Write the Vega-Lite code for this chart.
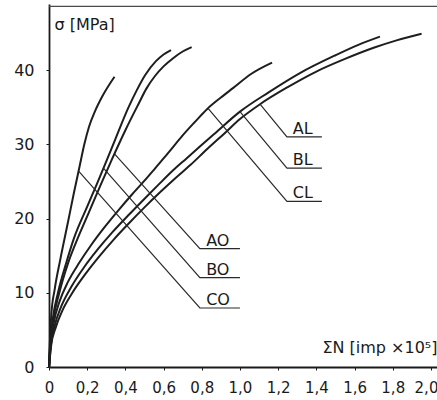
{
  "$schema": "https://vega.github.io/schema/vega-lite/v6.json",
  "width": 389,
  "height": 363,
  "autosize": "none",
  "padding": {"left": 49, "top": 4, "right": 0, "bottom": 33},
  "background": "white",
  "config": {
    "view": {"stroke": null},
    "font": "DejaVu Sans",
    "axis": {
      "grid": false,
      "domainColor": "#1a1a1a",
      "tickColor": "#1a1a1a",
      "labelColor": "#1a1a1a",
      "titleColor": "#1a1a1a",
      "labelFont": "DejaVu Sans",
      "titleFont": "DejaVu Sans",
      "titleFontWeight": "normal"
    }
  },
  "datasets": {
    "curves": [
      {"s": "CO", "n": 0, "sigma": 0}, {"s": "CO", "n": 0.004, "sigma": 3}, {"s": "CO", "n": 0.012, "sigma": 7}, {"s": "CO", "n": 0.03, "sigma": 10.5}, {"s": "CO", "n": 0.06, "sigma": 14.6}, {"s": "CO", "n": 0.1, "sigma": 19.6}, {"s": "CO", "n": 0.13, "sigma": 23.4}, {"s": "CO", "n": 0.16, "sigma": 27.0}, {"s": "CO", "n": 0.185, "sigma": 30.0}, {"s": "CO", "n": 0.21, "sigma": 32.4}, {"s": "CO", "n": 0.24, "sigma": 34.4}, {"s": "CO", "n": 0.28, "sigma": 36.5}, {"s": "CO", "n": 0.343, "sigma": 39.1},

      {"s": "BO", "n": 0, "sigma": 0}, {"s": "BO", "n": 0.006, "sigma": 3}, {"s": "BO", "n": 0.02, "sigma": 6.5}, {"s": "BO", "n": 0.047, "sigma": 10.0}, {"s": "BO", "n": 0.09, "sigma": 14.0}, {"s": "BO", "n": 0.13, "sigma": 17.3}, {"s": "BO", "n": 0.2, "sigma": 21.6}, {"s": "BO", "n": 0.25, "sigma": 24.6}, {"s": "BO", "n": 0.3, "sigma": 27.7}, {"s": "BO", "n": 0.346, "sigma": 30.6}, {"s": "BO", "n": 0.415, "sigma": 34.9}, {"s": "BO", "n": 0.46, "sigma": 37.3}, {"s": "BO", "n": 0.503, "sigma": 39.3}, {"s": "BO", "n": 0.56, "sigma": 41.2}, {"s": "BO", "n": 0.6, "sigma": 42.1}, {"s": "BO", "n": 0.639, "sigma": 42.7},

      {"s": "AO", "n": 0, "sigma": 0}, {"s": "AO", "n": 0.006, "sigma": 2.8}, {"s": "AO", "n": 0.022, "sigma": 6.3}, {"s": "AO", "n": 0.052, "sigma": 9.8}, {"s": "AO", "n": 0.1, "sigma": 14.0}, {"s": "AO", "n": 0.14, "sigma": 16.7}, {"s": "AO", "n": 0.21, "sigma": 20.9}, {"s": "AO", "n": 0.27, "sigma": 24.5}, {"s": "AO", "n": 0.33, "sigma": 28.0}, {"s": "AO", "n": 0.4, "sigma": 31.9}, {"s": "AO", "n": 0.468, "sigma": 35.4}, {"s": "AO", "n": 0.51, "sigma": 37.5}, {"s": "AO", "n": 0.555, "sigma": 39.2}, {"s": "AO", "n": 0.6, "sigma": 40.5}, {"s": "AO", "n": 0.65, "sigma": 41.6}, {"s": "AO", "n": 0.7, "sigma": 42.5}, {"s": "AO", "n": 0.747, "sigma": 43.1},

      {"s": "CL", "n": 0, "sigma": 0}, {"s": "CL", "n": 0.008, "sigma": 3}, {"s": "CL", "n": 0.025, "sigma": 6.0}, {"s": "CL", "n": 0.055, "sigma": 8.8}, {"s": "CL", "n": 0.1, "sigma": 11.5}, {"s": "CL", "n": 0.16, "sigma": 14.1}, {"s": "CL", "n": 0.22, "sigma": 16.4}, {"s": "CL", "n": 0.29, "sigma": 18.8}, {"s": "CL", "n": 0.36, "sigma": 21.0}, {"s": "CL", "n": 0.43, "sigma": 23.1}, {"s": "CL", "n": 0.5, "sigma": 25.1}, {"s": "CL", "n": 0.56, "sigma": 26.9}, {"s": "CL", "n": 0.62, "sigma": 28.7}, {"s": "CL", "n": 0.7, "sigma": 31.2}, {"s": "CL", "n": 0.76, "sigma": 32.9}, {"s": "CL", "n": 0.83, "sigma": 34.8}, {"s": "CL", "n": 0.9, "sigma": 36.3}, {"s": "CL", "n": 0.965, "sigma": 37.6}, {"s": "CL", "n": 1.06, "sigma": 39.5}, {"s": "CL", "n": 1.168, "sigma": 41.0},

      {"s": "BL", "n": 0, "sigma": 0}, {"s": "BL", "n": 0.01, "sigma": 3}, {"s": "BL", "n": 0.03, "sigma": 5.6}, {"s": "BL", "n": 0.06, "sigma": 7.9}, {"s": "BL", "n": 0.117, "sigma": 10.8}, {"s": "BL", "n": 0.18, "sigma": 13.3}, {"s": "BL", "n": 0.257, "sigma": 15.9}, {"s": "BL", "n": 0.33, "sigma": 18.1}, {"s": "BL", "n": 0.414, "sigma": 20.4}, {"s": "BL", "n": 0.49, "sigma": 22.4}, {"s": "BL", "n": 0.571, "sigma": 24.5}, {"s": "BL", "n": 0.65, "sigma": 26.5}, {"s": "BL", "n": 0.72, "sigma": 28.1}, {"s": "BL", "n": 0.79, "sigma": 29.7}, {"s": "BL", "n": 0.87, "sigma": 31.5}, {"s": "BL", "n": 1.0, "sigma": 34.4}, {"s": "BL", "n": 1.15, "sigma": 37.0}, {"s": "BL", "n": 1.314, "sigma": 39.6}, {"s": "BL", "n": 1.5, "sigma": 42.0}, {"s": "BL", "n": 1.62, "sigma": 43.4}, {"s": "BL", "n": 1.733, "sigma": 44.5},

      {"s": "AL", "n": 0, "sigma": 0}, {"s": "AL", "n": 0.012, "sigma": 3}, {"s": "AL", "n": 0.035, "sigma": 5.3}, {"s": "AL", "n": 0.07, "sigma": 7.6}, {"s": "AL", "n": 0.12, "sigma": 9.9}, {"s": "AL", "n": 0.19, "sigma": 12.5}, {"s": "AL", "n": 0.26, "sigma": 14.8}, {"s": "AL", "n": 0.34, "sigma": 17.2}, {"s": "AL", "n": 0.42, "sigma": 19.4}, {"s": "AL", "n": 0.5, "sigma": 21.5}, {"s": "AL", "n": 0.58, "sigma": 23.5}, {"s": "AL", "n": 0.66, "sigma": 25.4}, {"s": "AL", "n": 0.74, "sigma": 27.2}, {"s": "AL", "n": 0.83, "sigma": 29.4}, {"s": "AL", "n": 0.92, "sigma": 31.5}, {"s": "AL", "n": 1.0, "sigma": 33.4}, {"s": "AL", "n": 1.105, "sigma": 35.4}, {"s": "AL", "n": 1.25, "sigma": 37.7}, {"s": "AL", "n": 1.4, "sigma": 39.8}, {"s": "AL", "n": 1.55, "sigma": 41.5}, {"s": "AL", "n": 1.7, "sigma": 43.0}, {"s": "AL", "n": 1.82, "sigma": 44.0}, {"s": "AL", "n": 1.951, "sigma": 44.9}
    ],
    "leaders": [
      {"s": "CO", "k": 0, "n": 0.155, "sigma": 26.4}, {"s": "CO", "k": 1, "n": 0.79, "sigma": 7.95}, {"s": "CO", "k": 2, "n": 1.0, "sigma": 7.95},
      {"s": "BO", "k": 0, "n": 0.285, "sigma": 26.8}, {"s": "BO", "k": 1, "n": 0.79, "sigma": 12.05}, {"s": "BO", "k": 2, "n": 1.0, "sigma": 12.05},
      {"s": "AO", "k": 0, "n": 0.343, "sigma": 28.7}, {"s": "AO", "k": 1, "n": 0.79, "sigma": 15.95}, {"s": "AO", "k": 2, "n": 1.0, "sigma": 15.95},
      {"s": "CL", "k": 0, "n": 0.834, "sigma": 34.8}, {"s": "CL", "k": 1, "n": 1.246, "sigma": 22.3}, {"s": "CL", "k": 2, "n": 1.429, "sigma": 22.3},
      {"s": "BL", "k": 0, "n": 1.0, "sigma": 34.4}, {"s": "BL", "k": 1, "n": 1.246, "sigma": 26.8}, {"s": "BL", "k": 2, "n": 1.429, "sigma": 26.8},
      {"s": "AL", "k": 0, "n": 1.105, "sigma": 35.4}, {"s": "AL", "k": 1, "n": 1.246, "sigma": 31.0}, {"s": "AL", "k": 2, "n": 1.429, "sigma": 31.0}
    ],
    "labels": [
      {"s": "AO", "n": 0.823, "sigma": 15.95},
      {"s": "BO", "n": 0.823, "sigma": 12.05},
      {"s": "CO", "n": 0.823, "sigma": 7.95},
      {"s": "AL", "n": 1.277, "sigma": 31.0},
      {"s": "BL", "n": 1.277, "sigma": 26.8},
      {"s": "CL", "n": 1.277, "sigma": 22.3}
    ],
    "frame": [
      {"n0": 0, "n1": 2.037, "lo": 48.5, "hi": 48.68}
    ]
  },
  "layer": [
    {
      "data": {"name": "curves"},
      "mark": {"type": "line", "interpolate": "monotone", "strokeWidth": 2, "color": "#1e1e1e"},
      "encoding": {
        "x": {
          "field": "n", "type": "quantitative",
          "scale": {"domain": [0, 2.037], "nice": false},
          "axis": {
            "values": [0, 0.2, 0.4, 0.6, 0.8, 1.0, 1.2, 1.4, 1.6, 1.8, 2.0],
            "labelExpr": "datum.value == 0 ? '0' : replace(format(datum.value, '.1f'), '.', ',')",
            "labelFontSize": 15, "labelPadding": 10, "labelFlush": false,
            "labelAlign": {"condition": {"test": "datum.value == 2", "value": "right"}, "value": "center"},
            "labelOffset": {"condition": {"test": "datum.value == 2", "value": 7}, "value": 0},
            "tickSize": 3, "domainWidth": 1.8,
            "title": "ΣN  [imp ×10⁵]", "titleFontSize": 16,
            "titleX": 388, "titleY": -15, "titleAlign": "right", "titleBaseline": "alphabetic"
          }
        },
        "y": {
          "field": "sigma", "type": "quantitative",
          "scale": {"domain": [0, 48.9], "nice": false},
          "axis": {
            "values": [0, 10, 20, 30, 40],
            "labelFontSize": 16, "labelPadding": 12, "tickSize": 3, "domainWidth": 1.8,
            "title": "σ [MPa]", "titleFontSize": 16, "titleAngle": 0,
            "titleAlign": "left", "titleBaseline": "alphabetic", "titleX": 5, "titleY": 25
          }
        },
        "detail": {"field": "s"}
      }
    },
    {
      "data": {"name": "leaders"},
      "mark": {"type": "line", "strokeWidth": 1.2, "color": "#2a2a2a"},
      "encoding": {
        "x": {"field": "n", "type": "quantitative", "axis": null},
        "y": {"field": "sigma", "type": "quantitative"},
        "detail": {"field": "s"},
        "order": {"field": "k"}
      }
    },
    {
      "data": {"name": "labels"},
      "mark": {"type": "text", "align": "left", "baseline": "alphabetic", "dy": -3, "fontSize": 16, "font": "DejaVu Sans", "color": "#1a1a1a"},
      "encoding": {
        "x": {"field": "n", "type": "quantitative", "axis": null},
        "y": {"field": "sigma", "type": "quantitative"},
        "text": {"field": "s"}
      }
    },
    {
      "data": {"name": "frame"},
      "mark": {"type": "rect", "color": "#4a4a4a"},
      "encoding": {
        "x": {"field": "n0", "type": "quantitative", "axis": null},
        "x2": {"field": "n1"},
        "y": {"field": "lo", "type": "quantitative"},
        "y2": {"field": "hi"}
      }
    }
  ],
  "resolve": {"axis": {"x": "independent"}}
}
